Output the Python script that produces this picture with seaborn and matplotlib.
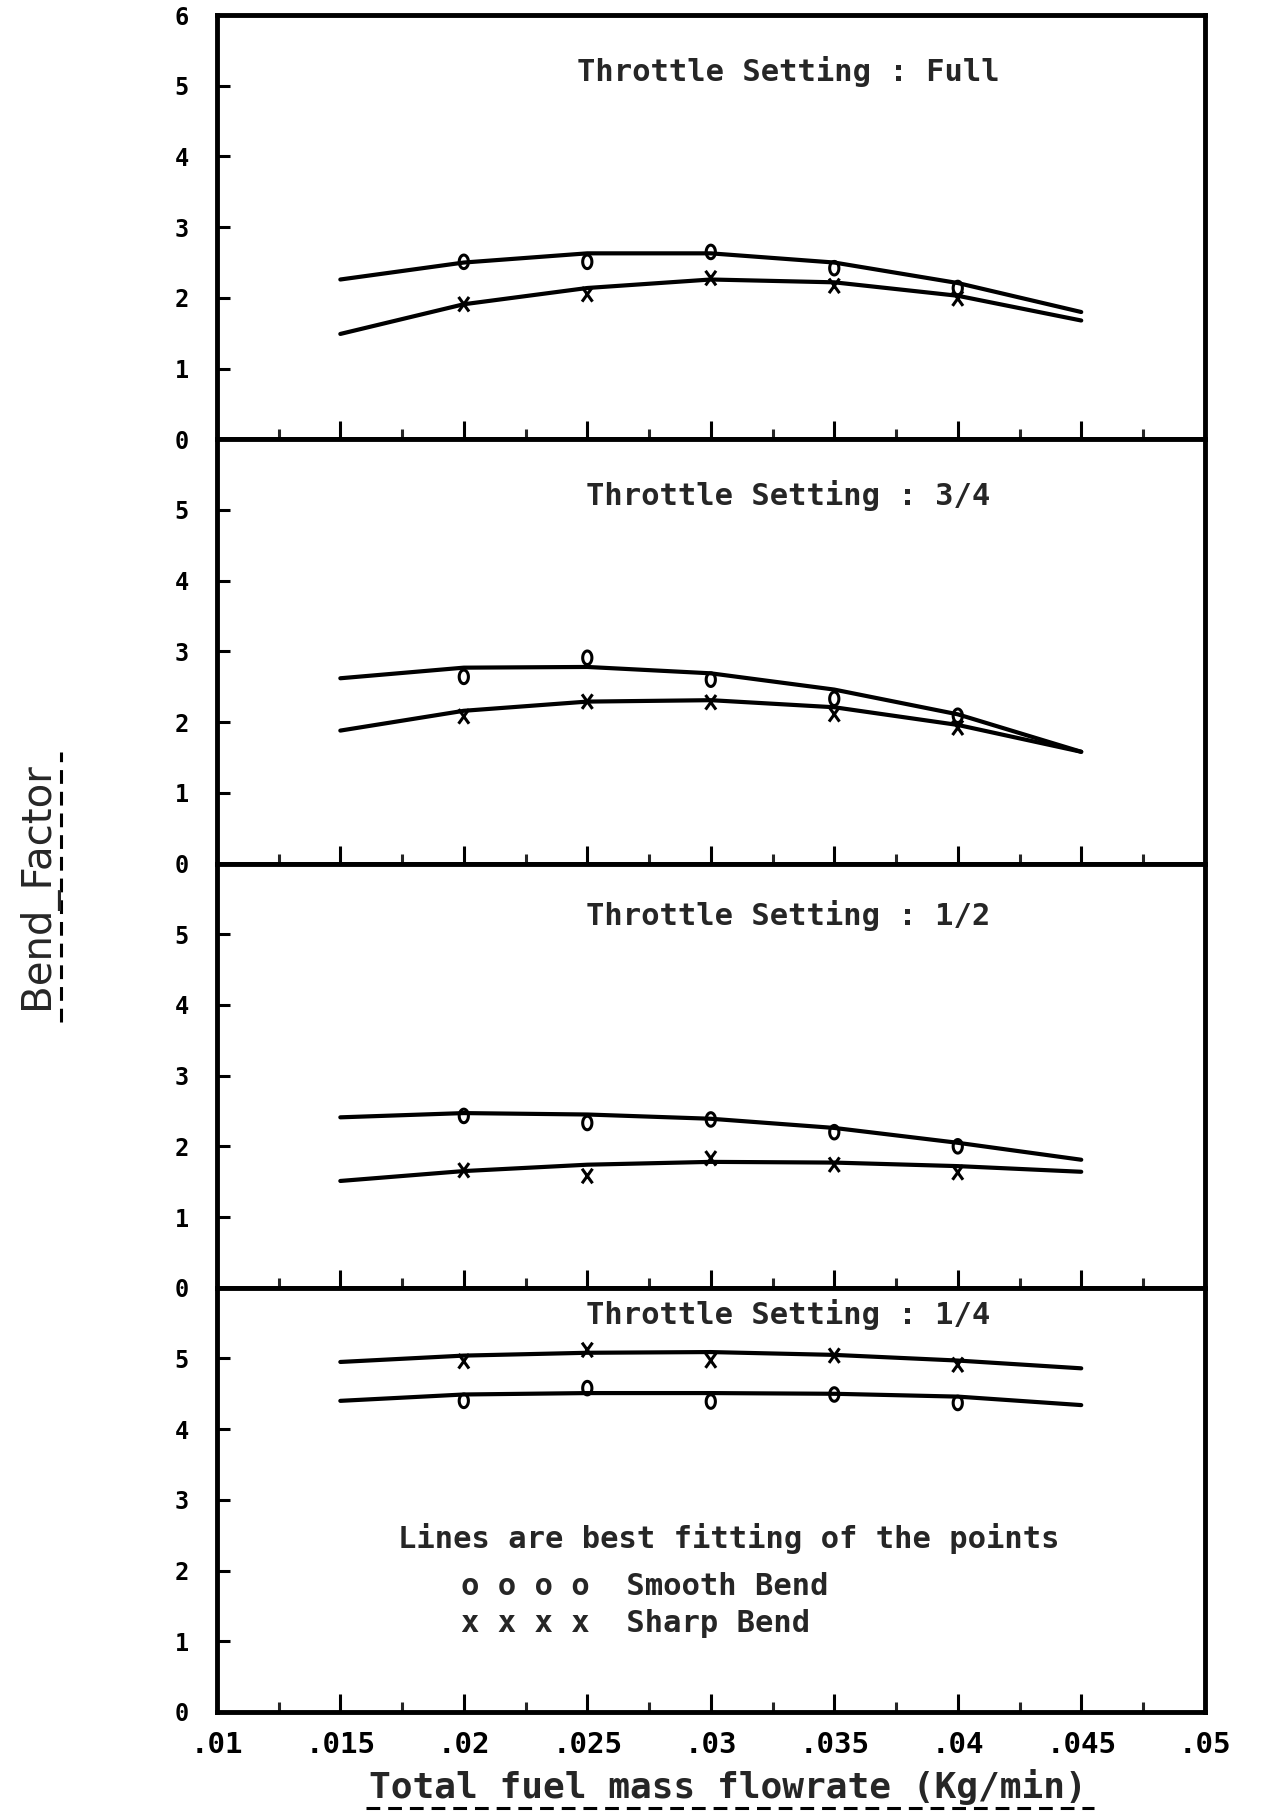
import matplotlib
matplotlib.use("Agg")
import matplotlib.pyplot as plt
from matplotlib.lines import Line2D
from matplotlib.path import Path
import numpy as np
import pandas as pd
import seaborn as sns

# ---- data -------------------------------------------------------------
x_fit = [0.015, 0.020, 0.025, 0.030, 0.035, 0.040, 0.045]
x_pts = [0.020, 0.025, 0.030, 0.035, 0.040]

full_smooth_fit = [2.26, 2.50, 2.63, 2.63, 2.50, 2.21, 1.80]
full_sharp_fit = [1.49, 1.91, 2.14, 2.26, 2.22, 2.03, 1.68]
full_smooth_pts = [2.51, 2.51, 2.65, 2.42, 2.14]
full_sharp_pts = [1.91, 2.05, 2.28, 2.17, 1.99]

q3_smooth_fit = [2.62, 2.77, 2.78, 2.69, 2.46, 2.11, 1.58]
q3_sharp_fit = [1.88, 2.16, 2.29, 2.31, 2.21, 1.96, 1.58]
q3_smooth_pts = [2.64, 2.91, 2.60, 2.33, 2.09]
q3_sharp_pts = [2.08, 2.29, 2.28, 2.11, 1.92]

half_smooth_fit = [2.41, 2.47, 2.45, 2.39, 2.26, 2.05, 1.81]
half_sharp_fit = [1.51, 1.65, 1.74, 1.78, 1.77, 1.72, 1.64]
half_smooth_pts = [2.43, 2.33, 2.38, 2.20, 2.00]
half_sharp_pts = [1.66, 1.58, 1.83, 1.74, 1.63]

quarter_smooth_fit = [4.40, 4.49, 4.51, 4.51, 4.50, 4.46, 4.34]
quarter_sharp_fit = [4.95, 5.04, 5.08, 5.09, 5.05, 4.97, 4.86]
quarter_smooth_pts = [4.40, 4.58, 4.39, 4.49, 4.37]
quarter_sharp_pts = [4.96, 5.12, 4.97, 5.04, 4.91]

throttle = ["Full", "3/4", "1/2", "1/4"]
title_y = [5.2, 5.2, 5.26, 5.62]

xtick_values = [0.010, 0.015, 0.020, 0.025, 0.030, 0.035, 0.040, 0.045, 0.050]
xtick_labels = [".01", ".015", ".02", ".025", ".03", ".035", ".04", ".045", ".05"]

x_label = "Total fuel mass flowrate (Kg/min)"
y_label = "Bend_Factor"
note_line = "Lines are best fitting of the points"
smooth_key = "o o o o  Smooth Bend"
sharp_key = "x x x x  Sharp Bend"

# ---- tidy tables ------------------------------------------------------
smooth_fits = [full_smooth_fit, q3_smooth_fit, half_smooth_fit, quarter_smooth_fit]
sharp_fits = [full_sharp_fit, q3_sharp_fit, half_sharp_fit, quarter_sharp_fit]
smooth_pts = [full_smooth_pts, q3_smooth_pts, half_smooth_pts, quarter_smooth_pts]
sharp_pts = [full_sharp_pts, q3_sharp_pts, half_sharp_pts, quarter_sharp_pts]

fit_rows, pt_rows = [], []
for t, sf, hf, sp, hp in zip(throttle, smooth_fits, sharp_fits, smooth_pts, sharp_pts):
    for x, y in zip(x_fit, sf):
        fit_rows.append((t, "Smooth", x, y))
    for x, y in zip(x_fit, hf):
        fit_rows.append((t, "Sharp", x, y))
    for x, y in zip(x_pts, sp):
        pt_rows.append((t, "Smooth", x, y))
    for x, y in zip(x_pts, hp):
        pt_rows.append((t, "Sharp", x, y))
fits = pd.DataFrame(fit_rows, columns=["throttle", "bend", "flow", "factor"])
points = pd.DataFrame(pt_rows, columns=["throttle", "bend", "flow", "factor"])

# ---- style ------------------------------------------------------------
sns.set_style("white")
plt.rcParams["font.family"] = ["DejaVu Sans Mono", "DejaVu Sans"]
plt.rcParams["font.weight"] = "bold"

MONO = "DejaVu Sans Mono"

# tall plotter-style markers
theta = np.linspace(0, 2 * np.pi, 40)
oval_marker = Path(np.column_stack([0.68 * np.cos(theta), np.sin(theta)]), closed=True)
cross_marker = Path([(-0.72, -1), (0.72, 1), (-0.72, 1), (0.72, -1)],
                    [Path.MOVETO, Path.LINETO, Path.MOVETO, Path.LINETO])

W, H = 1283, 1816
fig = plt.figure(figsize=(W / 100, H / 100), dpi=100)
gs = fig.add_gridspec(4, 1, left=0.169, right=0.939, bottom=0.0573, top=0.9917, hspace=0)
axes = [fig.add_subplot(gs[i, 0]) for i in range(4)]

for i, (ax, t) in enumerate(zip(axes, throttle)):
    f = fits[fits.throttle == t]
    p = points[points.throttle == t]
    for bend in ["Smooth", "Sharp"]:
        sns.lineplot(data=f[f.bend == bend], x="flow", y="factor", estimator=None,
                     sort=False, color="black", linewidth=3.0, ax=ax, legend=False)
    sns.scatterplot(data=p[p.bend == "Smooth"], x="flow", y="factor", marker=oval_marker,
                    s=95, facecolor="none", edgecolor="black", linewidth=2.2, ax=ax,
                    legend=False, zorder=3)
    sns.scatterplot(data=p[p.bend == "Sharp"], x="flow", y="factor", marker=cross_marker,
                    s=110, facecolor="none", edgecolor="black", linewidth=2.2, ax=ax,
                    legend=False, zorder=3)

    ax.set_xlim(0.01, 0.05)
    ax.set_ylim(0, 6)
    ax.set_xlabel("")
    ax.set_ylabel("")

    for sp in ax.spines.values():
        sp.set_visible(True)
        sp.set_linewidth(3.5)
        sp.set_color("black")

    yt = list(range(0, 7)) if i == 0 else list(range(0, 6))
    ax.set_yticks(yt)
    ax.set_yticklabels([str(v) for v in yt], fontsize=17, fontfamily=MONO, fontweight="bold")
    ax.tick_params(axis="y", direction="in", length=9, width=2.2, left=True, right=False,
                   pad=20, colors="black")

    ax.set_xticks(xtick_values)
    ax.set_xticks(np.arange(0.0125, 0.049, 0.005), minor=True)
    ax.tick_params(axis="x", which="major", direction="in", length=13, width=2.2,
                   bottom=True, top=False, pad=14, colors="black")
    ax.tick_params(axis="x", which="minor", direction="in", length=7.5, width=2.2,
                   bottom=True, top=False)
    if i == 3:
        ax.set_xticklabels(xtick_labels, fontsize=21, fontfamily=MONO, fontweight="bold")
    else:
        ax.tick_params(axis="x", labelbottom=False)

    ax.text(0.578, title_y[i], f"Throttle Setting : {t}", transform=ax.get_yaxis_transform(),
            ha="center", va="center", fontsize=22, fontfamily=MONO, fontweight="bold")

# key written inside the lowest panel
axb = axes[3]
axb.text(0.183, 2.45, note_line, transform=axb.get_yaxis_transform(), ha="left",
         va="center", fontsize=22, fontfamily=MONO, fontweight="bold")
axb.text(0.247, 1.77, smooth_key, transform=axb.get_yaxis_transform(), ha="left",
         va="center", fontsize=22, fontfamily=MONO, fontweight="bold")
axb.text(0.247, 1.25, sharp_key, transform=axb.get_yaxis_transform(), ha="left",
         va="center", fontsize=22, fontfamily=MONO, fontweight="bold")

# axis titles with dashed underlines
fig.text(728 / W, 1 - 1787 / H, x_label, ha="center", va="center", fontsize=26,
         fontfamily=MONO, fontweight="bold")
fig.add_artist(Line2D([366 / W, 1094 / W], [1 - 1808 / H] * 2, transform=fig.transFigure,
                      color="black", linewidth=2.2, dashes=(4.5, 2.6)))

fig.text(38 / W, 1 - 886 / H, y_label, rotation=90, ha="center", va="center",
         fontsize=29, fontfamily="DejaVu Sans", fontweight="normal")
fig.add_artist(Line2D([61 / W] * 2, [1 - 1022 / H, 1 - 752 / H], transform=fig.transFigure,
                      color="black", linewidth=2.2, dashes=(4.5, 2.6)))

fig.savefig("out.png", dpi=100, facecolor="white")
